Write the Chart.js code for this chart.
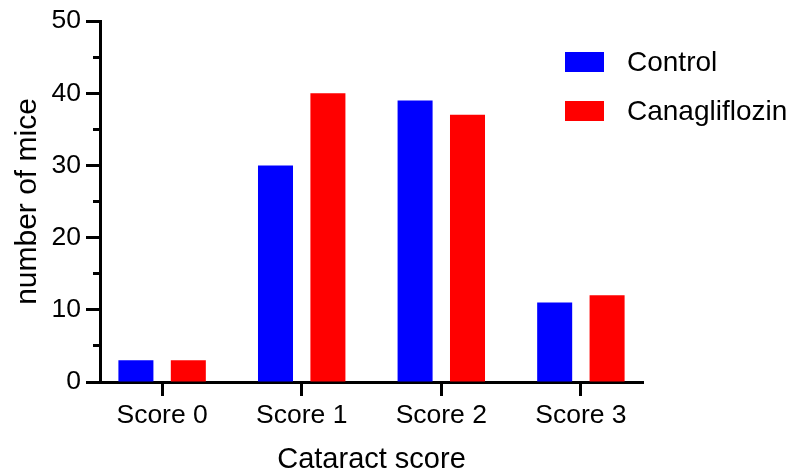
<!DOCTYPE html>
<html>
<head>
<meta charset="utf-8">
<script src="https://cdn.jsdelivr.net/npm/chart.js@4"></script>
<style>
  html, body { margin: 0; padding: 0; background: #fff; }
  canvas { display: block; }
</style>
</head>
<body>
<canvas id="cataract-chart" width="796" height="476"></canvas>
<script>
const categories = ['Score 0', 'Score 1', 'Score 2', 'Score 3'];
const controlCounts = [3, 30, 39, 11];
const canagliflozinCounts = [3, 40, 37, 12];
const seriesNames = ['Control', 'Canagliflozin'];
const seriesColors = ['#0000ff', '#ff0000'];

const FONT = "'Liberation Sans', Arial, sans-serif";

function toPoints(values) {
  return values.map((v, i) => ({ x: i, y: v }));
}

// draws the legend boxes to the right of the plot, like the original figure
const sideLegend = {
  id: 'sideLegend',
  afterDraw(chart) {
    const ctx = chart.ctx;
    ctx.save();
    ctx.font = '28px ' + FONT;
    ctx.textBaseline = 'middle';
    ctx.textAlign = 'left';
    chart.data.datasets.forEach((ds, i) => {
      const top = 52 + i * 49;
      ctx.fillStyle = ds.backgroundColor;
      ctx.fillRect(565, top, 39, 20);
      ctx.fillStyle = '#000';
      ctx.fillText(ds.label, 627, top + 11);
    });
    ctx.restore();
  },
};

function createChart() {
  const ctx = document.getElementById('cataract-chart').getContext('2d');

  return new Chart(ctx, {
    type: 'bar',
    data: {
      datasets: [
        {
          label: seriesNames[0],
          data: toPoints(controlCounts),
          backgroundColor: seriesColors[0],
        },
        {
          label: seriesNames[1],
          data: toPoints(canagliflozinCounts),
          backgroundColor: seriesColors[1],
        },
      ],
    },
    options: {
      responsive: false,
      animation: false,
      devicePixelRatio: 1,
      categoryPercentage: 0.751,
      barPercentage: 0.668,
      layout: {
        padding: { top: 21, right: 153, left: 0, bottom: 0 },
      },
      plugins: {
        legend: { display: false },
        tooltip: { enabled: false },
      },
      scales: {
        x: {
          type: 'linear',
          offset: false,
          min: -0.445,
          max: 3.445,
          afterBuildTicks(scale) {
            scale.ticks = categories.map((c, i) => ({ value: i }));
          },
          afterFit(scale) {
            scale.height = 94;
          },
          ticks: {
            autoSkip: false,
            maxRotation: 0,
            padding: 4,
            color: '#000',
            font: { family: FONT, size: 26.5 },
            callback(value) {
              return categories[value] ?? '';
            },
          },
          grid: {
            offset: false,
            drawOnChartArea: false,
            drawTicks: true,
            tickLength: 14,
            tickWidth: 3,
            tickColor: '#000',
          },
          border: { display: true, color: '#000', width: 3 },
          title: {
            display: true,
            text: 'Cataract score',
            color: '#000',
            font: { family: FONT, size: 29, lineHeight: 1.1 },
            padding: { top: 0, bottom: 0 },
          },
        },
        y: {
          min: 0,
          max: 50,
          weight: 1,
          afterFit(scale) {
            scale.width = 100;
          },
          ticks: {
            stepSize: 10,
            padding: 5,
            color: '#000',
            font: { family: FONT, size: 26.5 },
          },
          grid: {
            drawOnChartArea: false,
            drawTicks: true,
            tickLength: 14,
            tickWidth: 3,
            tickColor: '#000',
          },
          border: { display: true, color: '#000', width: 3 },
          title: {
            display: true,
            text: 'number of mice',
            color: '#000',
            font: { family: FONT, size: 30 },
            padding: { top: 10, bottom: 0 },
          },
        },
        // minor ticks at every 5
        yMinor: {
          position: 'left',
          min: 0,
          max: 50,
          weight: 0,
          afterFit(scale) {
            scale.width = 0;
          },
          ticks: { stepSize: 5, display: false },
          grid: {
            drawOnChartArea: false,
            drawTicks: true,
            tickLength: 7,
            tickWidth: 3,
            tickColor: '#000',
          },
          border: { display: false },
        },
      },
    },
    plugins: [sideLegend],
  });
}

createChart();
</script>
</body>
</html>
